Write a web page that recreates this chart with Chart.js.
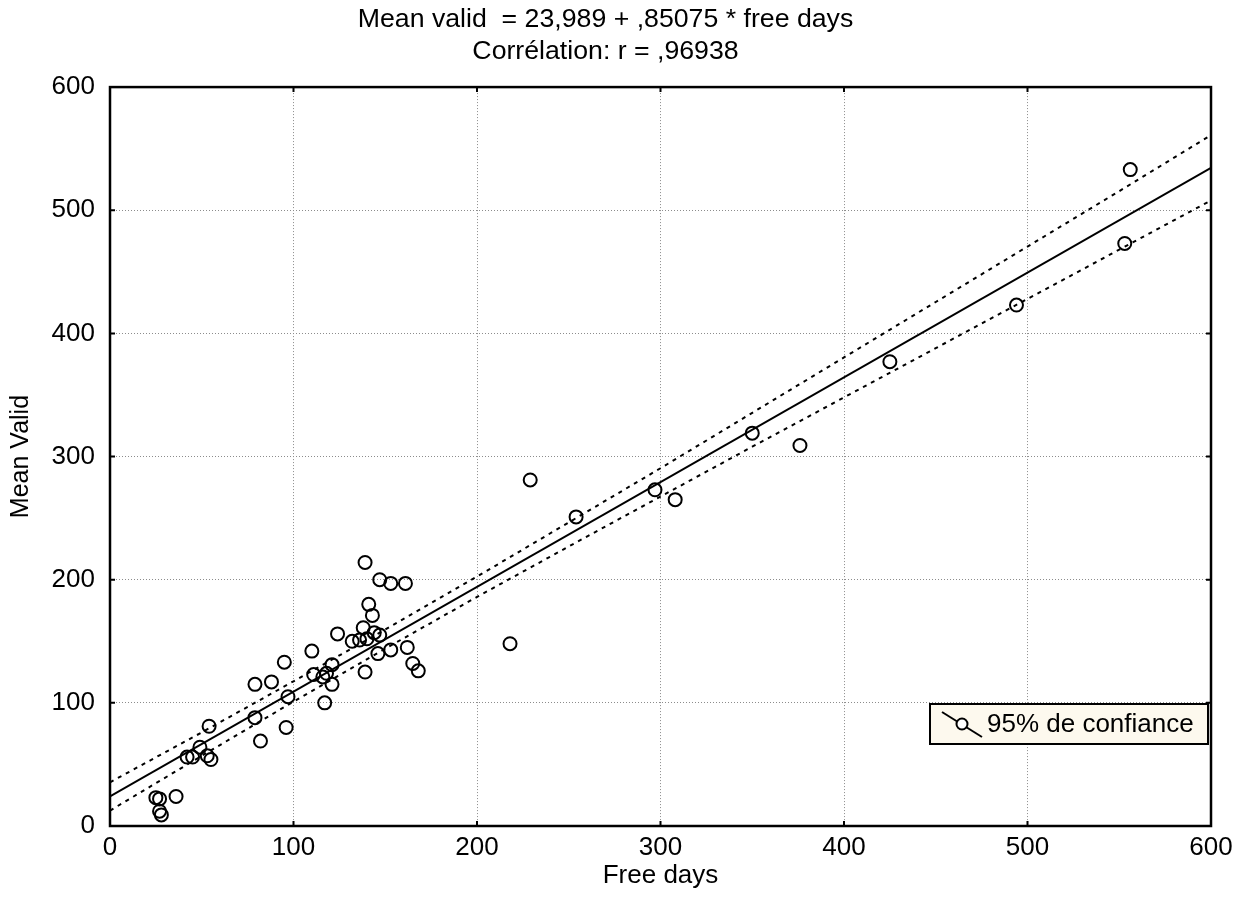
<!DOCTYPE html>
<html>
<head>
<meta charset="utf-8">
<script src="https://cdn.jsdelivr.net/npm/chart.js@4.4.0/dist/chart.umd.min.js"></script>
<style>
  html, body { margin: 0; padding: 0; background: #fff; }
</style>
</head>
<body>
<canvas id="regChart" width="1245" height="917"></canvas>
<script>
const freeDays = [556, 553, 494, 425, 350, 376, 297, 308, 254, 229, 218,
  139, 147, 153, 161, 141, 143, 138, 144, 147, 140, 136, 132, 124, 110, 95,
  146, 153, 162, 165, 168, 139, 121, 118, 116, 111, 121, 117, 79, 88, 97,
  79, 96, 82, 54, 49, 42, 45, 53, 55, 25, 27, 36, 27, 28];
const meanValid = [533, 473, 423, 377, 319, 309, 273, 265, 251, 281, 148,
  214, 200, 197, 197, 180, 171, 161, 157, 155, 152, 151, 150, 156, 142, 133,
  140, 143, 145, 132, 126, 125, 131, 124, 121, 123, 115, 100, 115, 117, 105,
  88, 80, 69, 81, 64, 56, 56, 57, 54, 23, 22, 24, 12, 9];

// Regression line from the title equation
const intercept = 23.989;
const slope = 0.85075;
const lineX = [0, 600];

// 95% confidence band, read at a few x positions
const bandX = [0, 50, 100, 150, 200, 250, 300, 350, 400, 450, 500, 550, 600];
const bandUpper = [35.5, 76, 117.5, 159.5, 202.5, 246.5, 290.5, 335.5, 380.5, 425.5, 470.5, 515.5, 561];
const bandLower = [12.5, 57, 101, 144, 186, 227, 267.5, 308, 348, 388, 428, 468, 508];

const xTicks = [0, 100, 200, 300, 400, 500, 600];
const yTicks = [0, 100, 200, 300, 400, 500, 600];

const titleLines = ['Mean valid  = 23,989 + ,85075 * free days', 'Corrélation: r = ,96938'];
const legendLabel = '95% de confiance';

const FONT = '"Liberation Sans", Arial, sans-serif';

const toXY = (xs, ys) => xs.map((v, i) => ({x: v, y: ys[i]}));

const framePlugin = {
  id: 'frame',
  afterDatasetsDraw(chart) {
    const {ctx, chartArea: a, scales} = chart;
    ctx.save();
    ctx.strokeStyle = '#000';
    ctx.lineWidth = 2.5;
    ctx.strokeRect(a.left, a.top, a.right - a.left, a.bottom - a.top);

    // small inward ticks on all four sides
    ctx.lineWidth = 2;
    ctx.beginPath();
    xTicks.forEach(v => {
      const px = scales.x.getPixelForValue(v);
      ctx.moveTo(px, a.bottom); ctx.lineTo(px, a.bottom - 5);
      ctx.moveTo(px, a.top); ctx.lineTo(px, a.top + 5);
    });
    yTicks.forEach(v => {
      const py = scales.y.getPixelForValue(v);
      ctx.moveTo(a.left, py); ctx.lineTo(a.left + 5, py);
      ctx.moveTo(a.right, py); ctx.lineTo(a.right - 5, py);
    });
    ctx.stroke();

    // legend box, bottom right of the plot
    const bw = 278, bh = 40;
    const bx = a.right - bw - 3, by = a.bottom - 82 - bh;
    ctx.fillStyle = '#fdf9ee';
    ctx.fillRect(bx, by, bw, bh);
    ctx.lineWidth = 2;
    ctx.strokeRect(bx, by, bw, bh);
    ctx.beginPath();
    ctx.moveTo(bx + 12, by + 8);
    ctx.lineTo(bx + 52, by + 33);
    ctx.stroke();
    ctx.beginPath();
    ctx.arc(bx + 32, by + 20, 5.5, 0, Math.PI * 2);
    ctx.fillStyle = '#fff';
    ctx.fill();
    ctx.stroke();
    ctx.fillStyle = '#000';
    ctx.font = '26px ' + FONT;
    ctx.textBaseline = 'middle';
    ctx.textAlign = 'left';
    ctx.fillText(legendLabel, bx + 57, by + 21);
    ctx.restore();
  }
};

const gridColor = c => (c.tick.value === 0 || c.tick.value === 600) ? 'rgba(0,0,0,0)' : '#8c8c8c';

const ctx = document.getElementById('regChart').getContext('2d');
new Chart(ctx, {
  type: 'scatter',
  data: {
    datasets: [{
      label: 'fit',
      data: toXY(lineX, lineX.map(v => intercept + slope * v)),
      showLine: true,
      borderColor: '#000',
      borderWidth: 2,
      pointRadius: 0
    }, {
      label: 'upper',
      data: toXY(bandX, bandUpper),
      showLine: true,
      borderColor: '#000',
      borderWidth: 2,
      borderDash: [4, 5],
      pointRadius: 0
    }, {
      label: 'lower',
      data: toXY(bandX, bandLower),
      showLine: true,
      borderColor: '#000',
      borderWidth: 2,
      borderDash: [4, 5],
      pointRadius: 0
    }, {
      label: 'Mean Valid',
      data: toXY(freeDays, meanValid),
      pointStyle: 'circle',
      pointRadius: 6.5,
      borderWidth: 2,
      borderColor: '#000',
      backgroundColor: 'rgba(0,0,0,0)'
    }]
  },
  options: {
    responsive: false,
    animation: false,
    layout: { padding: { left: 0, right: 34, top: 0, bottom: 0 } },
    plugins: {
      legend: { display: false },
      tooltip: { enabled: false },
      title: {
        display: true,
        text: titleLines,
        color: '#000',
        font: { family: FONT, size: 26.7, weight: 'normal', lineHeight: 1.2 },
        padding: { top: 4, bottom: 19 }
      }
    },
    scales: {
      x: {
        type: 'linear',
        min: 0, max: 600,
        afterFit: s => { s.height = 91; },
        border: { display: false, dash: [1, 2] },
        grid: { color: gridColor, lineWidth: 1, drawTicks: false },
        ticks: { stepSize: 100, padding: 6, color: '#000', font: { family: FONT, size: 26 } },
        title: { display: true, text: 'Free days', color: '#000', font: { family: FONT, size: 26 }, padding: { top: 0, bottom: 26 } }
      },
      y: {
        type: 'linear',
        min: 0, max: 600,
        afterFit: s => { s.width = 110; },
        border: { display: false, dash: [1, 2] },
        grid: { color: gridColor, lineWidth: 1, drawTicks: false },
        ticks: { stepSize: 100, padding: 15, color: '#000', font: { family: FONT, size: 26 } },
        title: { display: true, text: 'Mean Valid', color: '#000', font: { family: FONT, size: 25 }, padding: { top: 6, bottom: 0 } }
      }
    }
  },
  plugins: [framePlugin]
});
</script>
</body>
</html>
